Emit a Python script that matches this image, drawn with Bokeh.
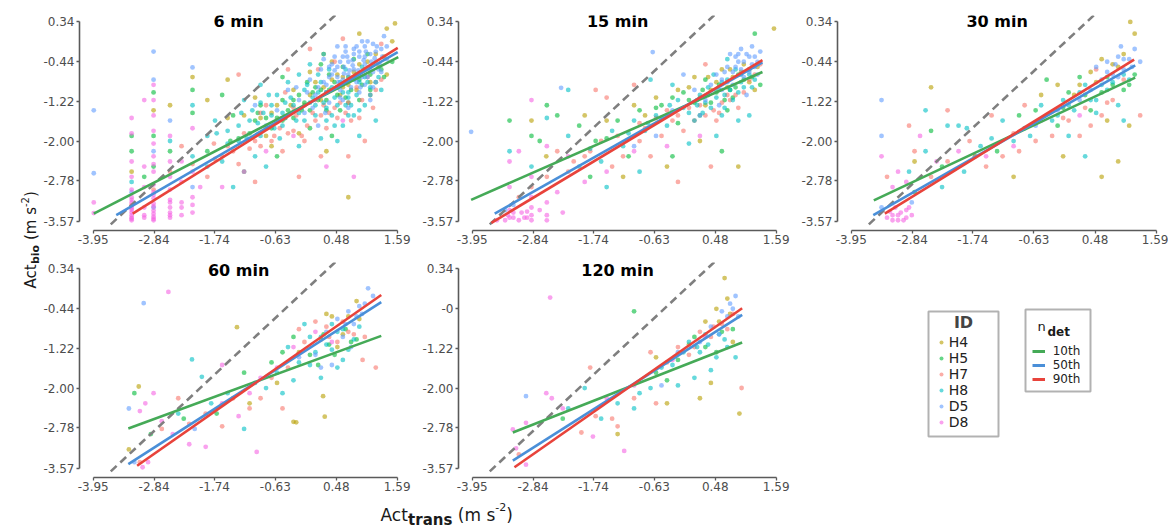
from bokeh.plotting import figure
from bokeh.layouts import row, column
from bokeh.models import (Range1d, FixedTicker, PrintfTickFormatter, Label,
                          BoxAnnotation, Legend, LegendItem)
from bokeh.embed import file_html
from bokeh.resources import INLINE

# ---------------- data ----------------
IDS = ["H4", "H5", "H7", "H8", "D5", "D8"]
QUANTILES = ["10th", "50th", "90th"]
PANELS = ["6 min", "15 min", "30 min", "60 min", "120 min"]
X_TICKS = [-3.95, -2.84, -1.74, -0.63, 0.48, 1.59]
Y_TICKS = [-3.57, -2.78, -2.00, -1.22, -0.44, 0.34]
ONE_TO_ONE = [-3.63, 0.6]

# 6 min
M6_H4 = [(-3.25,-2.6),(-2.85,-1.4),(-2.55,-1.3),(-2.14,-0.75),(-1.87,-1.2),(-1.5,-0.8),(-1.2,-1.5),(-0.9,-1.55),(-0.6,-1.3),(-0.3,-1.0),(0.0,-1.1),(0.2,-1.2),(0.4,-0.8),(0.6,-0.95),(0.8,-0.65),(1.0,-0.6),(1.2,-0.3),(1.4,-0.7),(1.55,0.3),(1.4,0.2),(0.9,0.1),(-0.2,-1.85),(0.3,-2.2),(0.7,-3.1),(-0.7,-2.1),(1.5,-0.05),
         (-0.45,-1.55),(0.0,-0.65),(0.3,-1.05),(0.5,-0.7),(0.7,-0.9),(0.9,-0.5),(1.1,-0.85),(0.25,-0.3),
         (-1.0,-1.15),(-0.35,-1.3),(0.1,-0.85),(0.55,-1.1),(1.25,-0.55),(0.4,-0.45),(-0.8,-1.9),
         (-1.5,-1.55),(-0.7,-1.45),(-0.1,-1.3),(0.25,-0.95),(0.6,-0.75),(0.85,-1.0),(1.05,-0.45),(1.35,-0.35)]
M6_H5 = [(-3.25,-1.9),(-3.25,-2.2),(-2.85,-1.05),(-2.85,-1.9),(-2.85,-2.5),(-2.14,-1.0),(-2.14,-1.45),(-2.55,-2.2),(-1.87,-2.2),(-3.02,-2.7),(-1.4,-1.5),(-1.1,-1.85),(-0.9,-1.3),(-0.7,-1.75),(-0.5,-1.2),(-0.3,-1.55),(-0.1,-1.25),(0.1,-0.95),(0.3,-1.4),(0.5,-1.1),(0.7,-0.75),(0.9,-1.2),(1.1,-0.7),(1.3,-0.6),(-0.5,-0.75),(0.0,-1.75),(0.4,-1.9),(-1.2,-2.6),(-0.6,-2.3),(0.2,-0.5),(0.8,-0.4),(1.5,-0.45),(-1.6,-1.1),
         (-0.8,-1.55),(-0.4,-1.4),(-0.05,-0.85),(0.15,-1.2),(0.35,-1.0),(0.55,-1.4),(0.75,-1.0),(0.95,-0.9),(1.05,-0.3),(-0.2,-1.1),(0.6,-0.55),
         (-1.0,-1.6),(-0.6,-1.55),(-0.3,-1.2),(0.0,-1.4),(0.2,-1.0),(0.45,-0.85),(0.65,-1.15),(0.85,-0.7),(1.2,-0.85),(-1.3,-1.95),
         (-0.95,-1.45),(-0.5,-1.6),(-0.15,-1.4),(0.05,-1.05),(0.3,-1.2),(0.5,-0.95),(0.7,-1.25),(0.9,-0.8),(1.1,-1.0),(1.35,-0.75),(-1.45,-2.0),(0.35,-0.7)]
M6_H7 = [(-3.25,-3.25),(-2.85,-2.95),(-2.55,-2.6),(-2.34,-2.1),(-2.14,-2.45),(-1.87,-2.7),(-1.73,-2.35),(-1.5,-2.1),(-1.3,-2.45),(-1.1,-2.15),(-0.9,-2.1),(-0.7,-2.0),(-0.5,-2.2),(-0.3,-1.8),(-0.1,-2.0),(0.1,-1.6),(0.3,-1.75),(0.5,-1.55),(0.7,-1.25),(0.9,-1.55),(1.1,-1.1),(1.3,-0.8),(-0.8,-1.3),(-0.4,-0.6),(0.0,-0.2),(-1.3,-0.7),(-0.2,-2.7),(0.2,-2.3),(0.7,-2.3),(1.0,-2.0),(-1.0,-2.8),(0.45,-0.45),(1.3,-0.1),(-0.6,-1.6),(0.6,0.0),
         (-0.65,-1.9),(-0.25,-1.5),(0.05,-1.45),(0.25,-1.3),(0.55,-1.25),(0.85,-0.95),(1.05,-0.75),(-0.45,-1.05),(0.15,-0.6),
         (-1.2,-1.85),(-0.8,-1.75),(-0.4,-1.85),(-0.05,-1.7),(0.35,-1.45),(0.75,-1.6),(1.15,-1.35),(-1.6,-2.3),(-1.75,-2.05),
         (-1.4,-2.2),(-1.0,-2.0),(-0.55,-1.75),(-0.15,-1.9),(0.2,-1.5),(0.45,-1.35),(0.65,-1.45),(0.95,-1.2),(1.2,-1.0),(-0.3,-1.35),(0.1,-1.2),(-0.9,-1.45)]
M6_H8 = [(-2.14,-1.3),(-2.14,-2.3),(-1.87,-1.9),(-1.87,-2.5),(-1.73,-1.6),(-2.55,-2.0),(-3.25,-2.8),(-1.5,-1.8),(-1.3,-2.0),(-1.1,-1.6),(-0.9,-1.9),(-0.7,-1.5),(-0.5,-1.7),(-0.3,-1.3),(-0.1,-1.0),(0.1,-1.3),(0.3,-1.05),(0.5,-1.3),(0.7,-1.05),(0.9,-0.85),(1.1,-0.95),(-0.6,-1.1),(-0.4,-0.85),(-0.2,-0.7),(0.0,-0.5),(0.2,-0.85),(0.4,-1.5),(0.6,-1.7),(0.8,-1.5),(1.0,-1.3),(-1.2,-1.2),(-1.0,-2.3),(-0.8,-2.5),(0.5,-2.0),(0.9,-1.9),(1.2,-1.6),(-1.6,-2.4),(-1.4,-2.9),(-0.2,-2.1),(0.25,-0.3),(-0.9,-0.9),(1.3,-1.0),(0.65,-0.6),
         (-0.7,-1.3),(-0.5,-1.45),(-0.35,-1.15),(-0.15,-1.35),(0.05,-1.15),(0.15,-0.7),(0.35,-0.6),(0.45,-1.15),(0.55,-0.85),(0.75,-1.3),(0.85,-1.1),(0.95,-0.55),(1.15,-0.5),(-0.95,-1.65),(-1.05,-1.4),(-0.25,-1.6),(0.3,-1.6),(0.7,-1.5),
         (-1.3,-1.7),(-1.15,-1.95),(-0.85,-1.45),(-0.55,-1.95),(-0.45,-1.25),(-0.1,-1.6),(0.1,-1.5),(0.25,-1.25),(0.4,-0.95),(0.6,-1.05),(0.65,-1.3),(1.0,-0.75),(1.1,-1.1),(0.2,-1.95),(-0.75,-1.1),
         (-0.9,-1.25),(-0.65,-1.75),(-0.45,-1.55),(-0.2,-1.45),(0.0,-1.25),(0.15,-1.05),(0.3,-1.35),(0.5,-0.95),(0.7,-1.15),(0.8,-0.8),(1.05,-0.85),(1.25,-0.75),(-0.05,-0.9),(0.45,-1.7),(0.9,-1.4),(-1.25,-1.45),(-1.5,-2.05),(-1.7,-1.85)]
M6_D5 = [(-3.94,-1.40),(-3.94,-2.63),(-2.85,-0.25),(-2.85,-0.8),(-2.85,-2.2),(-2.85,-3.3),(-3.25,-3.0),(-2.55,-1.6),(-2.14,-0.56),(-2.14,-2.9),(0.3,-0.9),(0.4,-0.7),(0.5,-0.55),(0.6,-0.8),(0.7,-0.45),(0.8,-0.6),(0.9,-0.35),(1.0,-0.5),(1.1,-0.3),(1.2,-0.45),(1.3,-0.2),(0.55,-1.0),(0.75,-0.95),(0.95,-0.75),(1.15,-0.65),(0.45,-0.35),(0.65,-0.25),(0.85,-0.15),(1.05,-0.05),(1.25,-0.6),(0.2,-0.6),(0.1,-1.1),(0.0,-0.8),(-0.2,-1.2),(-0.4,-1.0),(-0.1,-1.45),(0.35,-1.25),(0.6,-1.2),(0.9,-1.05),(1.2,-0.85),(1.4,-0.4),(1.35,0.05),(0.8,-0.3),(0.5,-0.15),(1.0,-0.9),(0.25,-0.4),(-0.6,-1.4),(-0.8,-1.7),(-1.0,-1.3),(0.7,-1.35),(1.1,-1.2),(0.15,-1.7),
         (0.45,-0.62),(0.62,-0.68),(0.78,-0.52),(0.88,-0.62),(0.98,-0.42),(1.08,-0.55),(1.18,-0.38),(1.28,-0.52),(0.72,-0.82),(0.52,-0.85),(0.35,-0.75),(1.02,-0.25),(1.22,-0.15),(0.92,-0.95),(0.68,-0.35),(0.15,-0.95),(-0.05,-1.05),(-0.25,-0.95),(0.05,-1.35),(0.28,-1.45),
         (0.55,-0.45),(0.72,-0.62),(0.82,-0.78),(0.9,-0.25),(1.12,-0.45),(1.32,-0.35),(1.0,-0.15),(0.4,-0.5),(0.3,-1.05),(0.62,-0.55),(1.15,-0.95),(0.78,-0.42),
         (0.5,-0.75),(0.6,-0.35),(0.7,-0.7),(0.8,-0.2),(0.9,-0.7),(1.0,-0.35),(1.1,-0.6),(1.2,-0.25),(1.3,-0.65),(1.4,-0.15),(0.35,-0.55),(0.25,-0.85),(0.55,-1.15),(0.85,-0.85),(1.05,-0.75),(0.95,-0.05),(1.15,-0.1),(0.65,-0.15)]
M6_D8 = [(-3.25,-3.55),(-3.25,-3.5),(-3.25,-3.45),(-3.25,-3.4),(-3.25,-3.35),(-3.25,-3.28),(-3.25,-3.2),(-3.25,-3.1),(-3.25,-2.95),(-3.25,-2.7),(-3.25,-2.4),(-3.25,-1.85),(-3.25,-1.55),
         (-2.85,-3.55),(-2.85,-3.48),(-2.85,-3.42),(-2.85,-3.36),(-2.85,-3.22),(-2.85,-3.12),(-2.85,-3.0),(-2.85,-2.85),(-2.85,-2.6),(-2.85,-2.3),(-2.85,-2.05),(-2.85,-1.8),(-2.85,-1.5),(-2.85,-1.2),(-2.85,-0.9),
         (-2.55,-3.5),(-2.55,-3.4),(-2.55,-3.3),(-2.55,-3.15),(-2.55,-2.95),(-2.55,-2.7),(-2.55,-2.4),(-2.55,-1.9),
         (-3.02,-3.5),(-3.02,-3.3),(-3.02,-2.9),(-3.02,-2.5),(-3.02,-1.2),(-2.34,-3.45),(-2.34,-3.2),(-2.34,-2.8),(-2.34,-2.4),
         (-2.14,-3.4),(-2.14,-3.1),(-2.14,-2.6),(-2.14,-1.75),(-3.94,-3.2),(-3.94,-3.41),
         (-1.6,-2.9),(-1.2,-2.6),(-0.8,-2.2),(0.3,-2.5),(-0.3,-1.9),(0.6,-1.6),(-2.0,-2.9),(0.8,-2.7),
         (-3.25,-3.52),(-3.25,-3.32),(-3.25,-3.15),(-2.85,-3.52),(-2.85,-3.28),(-2.85,-3.05),(-2.55,-3.45),(-2.55,-3.2),(-3.02,-3.45),(-2.34,-3.3),(-2.14,-3.25),(-2.85,-2.45)]

# 15 min
M15_H4 = [(-2.87,-1.6),(-2.6,-2.3),(-1.9,-1.5),(-1.5,-1.6),(-1.0,-1.3),(-0.6,-1.15),(-0.2,-1.0),(0.1,-0.75),(0.4,-1.0),(0.6,-0.6),(0.8,-0.75),(1.0,-0.5),(1.2,-1.0),(1.55,0.2),(0.9,-2.5),(-0.4,-2.5),(0.2,-2.0),(-1.2,-2.7),(0.3,-1.3),(0.7,-0.95),
          (0.2,-1.15),(0.5,-0.85),(0.95,-0.65),(1.1,-0.85),(-0.8,-1.5),(0.0,-0.95),(0.35,-0.75),(0.75,-0.6),(1.25,-0.55)]
M15_H5 = [(-3.27,-1.6),(-2.87,-1.9),(-2.59,-1.3),(-2.72,-2.0),(-2.4,-1.5),(-2.0,-1.7),(-1.7,-2.0),(-1.3,-1.6),(-1.1,-2.3),(-0.9,-1.4),(-0.5,-1.3),(-0.2,-1.65),(0.1,-1.25),(0.3,-0.8),(0.5,-1.05),(0.7,-1.4),(0.9,-0.7),(1.1,-0.6),(1.3,-0.9),(-0.3,-2.3),(0.6,-2.2),(1.2,0.1),(-1.8,-2.7),(0.2,-1.5),(0.8,-1.15),
          (0.4,-1.25),(0.65,-1.2),(0.85,-0.95),(1.0,-0.8),(-0.1,-1.05),(0.25,-1.0),(-0.6,-1.35),(-0.3,-1.15),(0.0,-1.2),(0.55,-0.9),(0.75,-1.0),(1.15,-0.75),(-1.5,-1.95)]
M15_H7 = [(-3.1,-3.1),(-2.87,-2.9),(-2.59,-2.7),(-2.2,-2.6),(-1.9,-2.3),(-1.6,-2.0),(-1.4,-2.5),(-1.2,-2.3),(-0.9,-2.0),(-0.7,-2.3),(-0.5,-1.9),(-0.3,-1.6),(-0.1,-1.8),(0.1,-1.6),(0.3,-1.5),(0.5,-1.6),(0.7,-1.1),(0.9,-1.35),(1.1,-0.8),(-1.7,-1.0),(-1.5,-1.15),(-0.2,-2.8),(0.4,-2.5),(-1.0,-0.9),(1.3,-0.5),(-2.4,-2.2),(0.3,-0.5),(0.6,-1.25),(-0.6,-1.55),
          (0.0,-1.35),(0.45,-1.4),(0.75,-1.2),(-0.4,-1.4),(-0.9,-1.65),(1.0,-1.05),(-1.3,-1.9),(-0.8,-1.75),(-0.2,-1.5),(0.2,-1.3),(0.55,-1.45),(0.85,-1.1),(1.2,-0.7),(-1.8,-2.2),(-2.1,-2.4)]
M15_H8 = [(-3.27,-2.2),(-2.87,-2.5),(-2.59,-1.55),(-2.2,-1.9),(-2.0,-2.5),(-1.8,-2.15),(-1.6,-2.4),(-1.4,-1.8),(-1.2,-2.1),(-1.0,-1.6),(-0.8,-1.8),(-0.6,-1.5),(-0.4,-1.7),(-0.2,-1.2),(0.0,-1.45),(0.2,-1.1),(0.4,-1.35),(0.6,-0.85),(0.8,-1.2),(1.0,-0.95),(1.2,-0.8),(0.5,-1.9),(0.0,-2.05),(-0.9,-2.6),(-1.5,-2.9),(0.9,-1.6),(-0.7,-0.8),(-2.2,-1.0),(0.7,-0.4),(1.1,-1.5),(-0.3,-0.9),(0.35,-0.95),(0.65,-1.1),(0.85,-0.6),(0.15,-1.3),
          (0.3,-1.25),(0.5,-1.15),(0.7,-0.8),(0.9,-1.05),(1.1,-0.7),(0.1,-1.6),(-0.5,-1.55),(0.6,-1.5),(0.95,-0.85),(0.45,-0.7),
          (-0.1,-1.35),(0.15,-1.2),(0.35,-1.1),(0.55,-1.0),(0.75,-1.0),(0.95,-0.7),(1.15,-0.95),(-0.35,-1.3),(-0.75,-1.65),(-1.1,-1.85),(0.25,-1.45),(0.65,-1.35)]
M15_D5 = [(-3.97,-1.82),(-3.35,-3.35),(-3.2,-3.25),(-2.33,-0.96),(-0.66,-0.26),(0.5,-0.7),(0.7,-0.55),(0.9,-0.45),(1.1,-0.35),(1.2,-0.55),(1.0,-0.75),(0.8,-0.9),(0.6,-1.0),(0.4,-0.9),(0.3,-1.2),(0.1,-1.0),(1.3,-0.25),(1.25,-0.7),(0.95,-0.2),(0.75,-0.3),(0.2,-1.5),(-0.3,-1.4),(-0.6,-1.9),(-1.0,-2.1),(0.55,-1.3),(1.05,-1.1),(-0.1,-0.7),(1.15,-0.15),(0.85,-0.35),
          (0.85,-0.55),(1.0,-0.45),(1.15,-0.5),(0.65,-0.65),(1.2,-0.35),(0.7,-0.85),(0.8,-0.65),(0.95,-0.6),(1.05,-0.3),(1.25,-0.45),(0.6,-0.8),(1.1,-0.65),(0.9,-0.3)]
M15_D8 = [(-3.35,-3.55),(-3.3,-3.45),(-3.27,-3.35),(-3.2,-3.5),(-3.1,-3.55),(-3.05,-3.4),(-2.95,-3.5),(-2.87,-3.45),(-2.87,-3.3),(-2.87,-3.1),(-2.87,-2.7),(-2.87,-1.2),(-3.27,-2.9),(-3.27,-2.4),(-2.59,-3.45),(-2.59,-3.2),(-2.59,-2.1),(-2.72,-3.35),(-2.4,-3.0),(-2.2,-2.3),(-1.9,-2.8),(-1.5,-2.6),(-1.0,-2.2),(-0.4,-2.1),(0.2,-1.9),(-3.5,-3.55),(-3.1,-2.2),(-2.3,-3.4),
          (-3.2,-3.4),(-3.0,-3.5),(-2.87,-3.55),(-3.27,-3.5),(-2.95,-3.38),(-2.59,-3.55)]

# 30 min
M30_H4 = [(-2.5,-0.95),(-2.8,-2.4),(-1.0,-2.7),(-0.5,-1.1),(-0.2,-0.9),(0.1,-1.1),(0.4,-0.65),(0.6,-0.4),(0.8,-0.5),(1.0,-0.3),(1.12,0.33),(1.2,0.1),(0.9,-2.4),(1.1,-1.7),(0.6,-2.7),(-0.1,-2.3),(0.7,-1.6),
          (0.2,-0.9),(0.5,-0.85),(0.9,-0.55)]
M30_H5 = [(-2.5,-1.8),(-2.3,-2.5),(-1.7,-2.3),(-1.3,-2.2),(-0.9,-1.5),(-0.6,-1.4),(-0.2,-1.7),(0.0,-1.05),(0.2,-0.75),(0.4,-1.4),(0.6,-1.05),(0.8,-0.9),(1.0,-1.0),(-0.4,-0.8),(-2.8,-3.0),(1.2,-0.7),
          (-0.1,-1.35),(0.3,-1.1),(0.7,-0.75),(1.1,-0.9)]
M30_H7 = [(-3.3,-2.7),(-2.8,-2.2),(-2.5,-2.7),(-2.2,-2.4),(-1.8,-2.0),(-1.5,-2.5),(-1.2,-2.3),(-0.9,-2.2),(-0.6,-2.0),(-0.3,-1.9),(0.0,-1.6),(0.2,-1.9),(0.4,-1.7),(0.6,-1.5),(0.8,-1.2),(1.0,-0.8),(1.3,-1.5),(-1.4,-1.5),(-0.8,-1.3),(0.5,-0.6),(-2.9,-1.7),(-2.2,-1.4),
          (-0.1,-1.55),(0.3,-1.35),(0.7,-1.25),(-1.0,-1.85),(-1.7,-2.3)]
M30_H8 = [(-2.9,-2.6),(-2.6,-2.2),(-2.2,-1.7),(-2.0,-1.7),(-1.85,-1.75),(-1.6,-2.1),(-1.9,-2.6),(-1.4,-1.95),(-1.2,-1.6),(-1.0,-2.0),(-0.7,-1.9),(-0.5,-1.3),(-0.3,-1.6),(-0.1,-1.2),(0.1,-1.4),(0.3,-0.9),(0.5,-1.2),(0.7,-1.0),(0.9,-1.3),(1.1,-0.8),(0.3,-2.3),(-2.3,-2.9),(-2.6,-1.4),(0.0,-1.9),(1.0,-1.6),
          (0.0,-1.3),(0.2,-1.05),(0.4,-1.2),(0.6,-0.9),(0.8,-0.85),(1.0,-0.7),(0.5,-1.45),(-0.2,-1.5),(-0.8,-1.75)]
M30_D5 = [(-3.4,-1.2),(-3.4,-1.9),(-2.85,-3.2),(-3.4,-3.3),(0.5,-0.55),(0.7,-0.45),(0.9,-0.35),(1.1,-0.4),(0.8,-0.7),(1.0,-0.6),(0.6,-0.8),(1.2,-0.2),(0.4,-1.0),(0.2,-1.2),(-0.2,-1.4),(-0.6,-1.7),(1.3,-0.45),(0.95,-0.15),
          (0.7,-0.65),(0.85,-0.5),(1.0,-0.4),(1.15,-0.55),(0.9,-0.75)]
M30_D8 = [(-3.3,-3.5),(-3.2,-3.45),(-3.1,-3.55),(-3.05,-3.4),(-2.95,-3.5),(-2.9,-3.3),(-3.15,-3.3),(-3.0,-3.55),(-3.25,-3.38),(-2.85,-3.45),(-3.4,-2.3),(-3.1,-2.6),(-2.95,-2.8),(-3.2,-2.9),(-2.7,-1.9),(-2.4,-2.4),(-2.0,-2.2),(-1.5,-2.3),(-1.0,-2.1),(-0.5,-1.6),(0.2,-1.5),
          (-3.1,-3.45),(-3.2,-3.55),(-2.95,-3.35)]

# 60 min
M60_H4 = [(-3.12,-1.97),(-3.3,-3.2),(-1.33,-0.81),(-0.30,-2.66),(-0.25,-2.67),(0.24,-2.16),(0.27,-2.56),(-0.6,-1.9),(-0.2,-1.3),(0.2,-1.05),(0.5,-1.2),(0.7,-0.6),(0.9,-0.65),(0.3,-0.55),(-1.1,-2.3),(0.85,-0.3),
          (0.6,-0.95),(0.4,-0.6)]
M60_H5 = [(-3.2,-2.1),(-2.9,-2.9),(-2.3,-2.6),(-1.7,-2.5),(-1.2,-1.7),(-0.7,-1.5),(-0.3,-1.0),(0.0,-1.35),(0.25,-0.95),(0.45,-1.35),(0.65,-0.85),(0.85,-1.05),(-0.5,-1.3),(0.15,-1.55),
          (0.35,-1.15),(0.75,-1.1)]
M60_H7 = [(-3.1,-3.45),(-2.7,-2.8),(-2.4,-2.2),(-2.2,-2.7),(-1.9,-2.5),(-1.6,-2.75),(-1.4,-2.2),(-1.1,-2.4),(-0.9,-2.2),(-0.7,-1.8),(-0.4,-1.6),(-0.1,-1.1),(0.1,-0.7),(0.35,-1.0),(0.6,-0.7),(0.8,-0.95),(1.0,-1.0),(-0.2,-0.85),(0.96,-1.45),(-0.5,-2.4),(1.2,-1.6),
          (0.3,-0.8),(0.7,-0.9),(0.5,-1.1)]
M60_H8 = [(-2.15,-1.44),(-1.97,-1.78),(-2.4,-2.5),(-1.8,-2.3),(-1.5,-2.1),(-1.0,-1.9),(-0.8,-2.0),(-0.6,-1.7),(-0.4,-1.2),(-0.2,-1.5),(0.0,-1.0),(0.1,-1.3),(0.3,-1.15),(0.5,-0.9),(0.7,-1.25),(0.2,-1.8),(0.5,-1.6),(-0.5,-2.1),(-1.2,-2.8),(0.9,-0.8),(-0.1,-0.75),(0.4,-0.75),(-0.3,-1.85),(0.6,-1.45),
          (0.2,-1.0),(0.4,-1.25),(0.6,-0.85),(0.8,-1.05),(0.0,-1.55)]
M60_D5 = [(-3.03,-0.34),(-3.3,-2.4),(-3.2,-3.45),(-2.1,-2.8),(0.5,-0.65),(0.7,-0.5),(0.9,-0.4),(1.06,-0.05),(0.8,-0.75),(0.3,-0.9),(0.1,-1.35),(0.6,-1.0),(0.4,-1.55),(0.2,-1.6),(-0.2,-1.4),(0.75,-1.2),(0.95,-0.55),(1.15,-0.2),
          (0.65,-0.75),(0.85,-0.6),(1.0,-0.35)]
M60_D8 = [(-2.58,-0.12),(-3.1,-2.45),(-3.0,-2.3),(-2.85,-2.1),(-3.05,-3.55),(-2.95,-3.45),(-2.7,-2.65),(-2.5,-2.9),(-2.2,-3.1),(-1.9,-3.15),(-1.6,-2.3),(-1.3,-2.55),(-0.97,-3.25),(-0.9,-1.8),(-0.6,-1.6),(-0.3,-1.2),(0.1,-0.9),(0.4,-1.1),(-1.6,-1.55),(-1.1,-2.1)]

# 120 min
M120_H4 = [(-1.3,-2.9),(-0.4,-2.3),(0.2,-2.2),(0.4,-1.9),(0.92,-2.5),(0.5,-0.45),(0.7,-0.25),(0.65,0.15),(0.0,-1.15),(-0.6,-1.4),(0.3,-0.7),(0.8,-1.1),
           (0.55,-0.7),(0.75,-0.55)]
M120_H5 = [(-1.0,-0.5),(-2.3,-2.6),(-0.6,-1.7),(-0.2,-1.45),(0.1,-1.0),(0.3,-1.2),(0.6,-0.9),(0.8,-0.85),(0.5,-1.3),(-0.4,-1.85)]
M120_H7 = [(-3.1,-3.3),(-1.96,-2.87),(-1.7,-2.55),(-1.4,-2.6),(-1.3,-2.75),(-1.8,-1.6),(-1.0,-2.2),(-0.6,-2.3),(-0.4,-1.5),(-0.2,-1.2),(0.0,-1.35),(0.2,-0.9),(0.4,-1.0),(0.6,-0.75),(0.8,-0.55),(0.96,-2.0),(-0.7,-1.3),
           (0.45,-0.8),(0.7,-0.85),(0.1,-1.2)]
M120_H8 = [(-2.2,-2.4),(-1.9,-2.0),(-1.3,-2.3),(-1.0,-2.4),(-0.9,-2.1),(-0.7,-2.0),(-0.5,-1.6),(-0.3,-1.55),(-0.1,-1.3),(0.0,-1.1),(0.2,-1.3),(0.35,-1.15),(0.5,-1.4),(0.7,-1.2),(0.85,-1.4),(-0.2,-1.95),(0.1,-1.8),(0.4,-1.65),(-1.6,-2.6),
           (0.3,-0.95),(0.55,-0.95),(0.65,-1.05),(0.15,-1.2)]
M120_D5 = [(-2.97,-2.16),(0.6,-0.5),(0.75,-0.35),(0.85,-0.2),(0.4,-0.8),(0.2,-1.1),(-0.2,-1.3),(-0.5,-1.95),(0.55,-0.95),(0.9,-0.6),
           (0.7,-0.6),(0.8,-0.45)]
M120_D8 = [(-2.53,-0.23),(-3.21,-2.81),(-2.97,-2.68),(-3.15,-3.18),(-2.97,-3.5),(-2.6,-2.1),(-2.5,-2.2),(-2.3,-2.4),(-1.75,-2.95),(-1.18,-3.23),(-1.5,-2.2),(-1.0,-1.95),(-0.3,-1.45),(0.3,-1.0)]

# quantile regression lines: [(x start, y start), (x end, y end)]
REG_6 = {"10th": [(-3.94,-3.42),(1.61,-0.36)], "50th": [(-3.53,-3.45),(1.60,-0.26)], "90th": [(-3.23,-3.42),(1.60,-0.18)]}
REG_15 = {"10th": [(-3.97,-3.15),(1.34,-0.65)], "50th": [(-3.54,-3.42),(1.34,-0.46)], "90th": [(-3.60,-3.60),(1.34,-0.42)]}
REG_30 = {"10th": [(-3.54,-3.16),(1.21,-0.76)], "50th": [(-3.55,-3.45),(1.21,-0.52)], "90th": [(-3.34,-3.42),(1.19,-0.41)]}
REG_60 = {"10th": [(-3.31,-2.79),(1.30,-0.98)], "50th": [(-3.31,-3.49),(1.30,-0.32)], "90th": [(-3.15,-3.52),(1.30,-0.18)]}
REG_120 = {"10th": [(-3.21,-2.87),(0.97,-1.11)], "50th": [(-3.21,-3.42),(0.97,-0.57)], "90th": [(-3.18,-3.55),(0.97,-0.44)]}

POINTS = {
    "6 min": dict(zip(IDS, [M6_H4, M6_H5, M6_H7, M6_H8, M6_D5, M6_D8])),
    "15 min": dict(zip(IDS, [M15_H4, M15_H5, M15_H7, M15_H8, M15_D5, M15_D8])),
    "30 min": dict(zip(IDS, [M30_H4, M30_H5, M30_H7, M30_H8, M30_D5, M30_D8])),
    "60 min": dict(zip(IDS, [M60_H4, M60_H5, M60_H7, M60_H8, M60_D5, M60_D8])),
    "120 min": dict(zip(IDS, [M120_H4, M120_H5, M120_H7, M120_H8, M120_D5, M120_D8])),
}
REGS = {"6 min": REG_6, "15 min": REG_15, "30 min": REG_30, "60 min": REG_60, "120 min": REG_120}

# ---------------- styles ----------------
ID_COLORS = {"H4": "#B79F00", "H5": "#00BA38", "H7": "#F8766D",
             "H8": "#00BFC4", "D5": "#619CFF", "D8": "#F564E3"}
Q_COLORS = {"10th": "#45AA57", "50th": "#4A8FD8", "90th": "#E8433B"}
FONT = "DejaVu Sans"
AXIS_COL = "#5a5a5a"
FRAME_H = 215


def style_axes(p):
    for ax, ticks, so in ((p.xaxis, X_TICKS, 1), (p.yaxis, Y_TICKS, 2)):
        ax.ticker = FixedTicker(ticks=ticks, minor_ticks=[])
        ax.formatter = PrintfTickFormatter(format="%.2f")
        ax.bounds = (ticks[0], ticks[-1])
        ax.axis_line_color = AXIS_COL
        ax.axis_line_width = 1.6
        ax.major_tick_line_color = AXIS_COL
        ax.major_tick_line_width = 1.3
        ax.major_tick_out = 3
        ax.major_tick_in = 0
        ax.minor_tick_line_color = None
        ax.major_label_text_font = FONT
        ax.major_label_text_font_size = "12px"
        ax.major_label_text_color = "#4d4d4d"
        ax.major_label_standoff = so


def make_panel(name, width, bl, br, bt, bb, title_y):
    p = figure(width=width, height=bt + FRAME_H + bb,
               x_range=Range1d(-4.2, 1.76), y_range=Range1d(-3.75, 0.455),
               output_backend="svg", toolbar_location=None, title=None,
               min_border_left=bl, min_border_right=br,
               min_border_top=bt, min_border_bottom=bb)
    p.outline_line_color = None
    p.xgrid.visible = False
    p.ygrid.visible = False
    p.background_fill_color = "white"
    p.border_fill_color = "white"
    style_axes(p)
    pts = POINTS[name]
    for id_ in IDS:
        xs = [a for a, b in pts[id_]]
        ys = [b for a, b in pts[id_]]
        p.scatter(xs, ys, size=4.8, fill_color=ID_COLORS[id_],
                  line_color=None, fill_alpha=0.6)
    p.line(ONE_TO_ONE, ONE_TO_ONE, line_color="#7f7f7f", line_width=2.6,
           line_dash="8 5")
    reg = REGS[name]
    for q in QUANTILES:
        (x0, y0), (x1, y1) = reg[q]
        p.line([x0, x1], [y0, y1], line_color=Q_COLORS[q], line_width=2.6)
    p.add_layout(Label(x=-1.3, y=title_y, text=name, text_font=FONT,
                       text_font_style="bold", text_font_size="16px",
                       text_align="center", text_baseline="middle",
                       text_color="black"))
    return p


def blank(width, height, bt=0, bb=0):
    p = figure(width=width, height=height, x_range=Range1d(0, width),
               y_range=Range1d(0, height - bt - bb), output_backend="svg",
               toolbar_location=None, title=None, x_axis_type=None,
               y_axis_type=None, min_border=0, min_border_top=bt,
               min_border_bottom=bb)
    p.outline_line_color = None
    p.xgrid.visible = False
    p.ygrid.visible = False
    return p


def txt(p, x, y, s, size, bold=False, angle=0.0, color="#1a1a1a"):
    p.add_layout(Label(x=x, y=y, text=s, text_font=FONT,
                       text_font_size=f"{size}px",
                       text_font_style="bold" if bold else "normal",
                       text_align="left", text_baseline="alphabetic",
                       angle=angle, text_color=color))


# ---------------- panels ----------------
p1 = make_panel("6 min", 379, 38, 13, 15, 18, 0.34)
p2 = make_panel("15 min", 379, 38, 13, 15, 18, 0.34)
p3 = make_panel("30 min", 370, 39, 3, 15, 18, 0.34)
p4 = make_panel("60 min", 379, 38, 13, 14, 18, 0.29)
p5 = make_panel("120 min", 379, 38, 13, 14, 18, 0.29)
p5.yaxis.major_label_overrides = {-0.44: "-0"}

# ---------------- legend panel ----------------
lg = blank(370, 247, bt=14, bb=18)
lg.add_layout(BoxAnnotation(left=130, right=200, bottom=41, top=166,
                            fill_alpha=0, line_color="black", line_width=2))
lg.add_layout(BoxAnnotation(left=227, right=292, bottom=86, top=168,
                            fill_alpha=0, line_color="black", line_width=2))
lg.add_layout(Label(x=165, y=155, text="ID", text_font=FONT,
                    text_font_style="bold", text_font_size="16px",
                    text_align="center", text_baseline="middle"))
txt(lg, 239, 151, "n", 13)
txt(lg, 249, 145.5, "det", 12, bold=True)

id_items = []
for id_ in IDS:
    src = POINTS["6 min"][id_]
    r = lg.scatter([a for a, b in src], [b for a, b in src], size=5,
                   fill_color=ID_COLORS[id_], line_color=None,
                   fill_alpha=0.6, visible=False)
    id_items.append(LegendItem(label=id_, renderers=[r]))
q_items = []
for q in QUANTILES:
    (x0, y0), (x1, y1) = REG_6[q]
    r = lg.line([x0, x1], [y0, y1], line_color=Q_COLORS[q], line_width=3,
                visible=False)
    q_items.append(LegendItem(label=q, renderers=[r]))

leg_id = Legend(items=id_items, location=(137.7, 47), padding=0, margin=0,
                spacing=0, glyph_width=10, glyph_height=10, label_height=10,
                label_standoff=3, label_text_font=FONT,
                label_text_font_size="14px", label_text_color="#222222",
                border_line_color=None, background_fill_alpha=0)
leg_q = Legend(items=q_items, location=(233.7, 90.7), padding=0, margin=0,
               spacing=0, glyph_width=13, glyph_height=10, label_height=10,
               label_standoff=8, label_text_font=FONT,
               label_text_font_size="12px", label_text_color="#222222",
               border_line_color=None, background_fill_alpha=0)
lg.add_layout(leg_id)
lg.add_layout(leg_q)

# ---------------- axis titles ----------------
ylab = blank(40, 495)
A = 1.5707963267948966
txt(ylab, 30, 207, "Act", 15, angle=A)
txt(ylab, 34.5, 231.4, "bio", 11, bold=True, angle=A)
txt(ylab, 30, 255.4, "(m s", 15, angle=A)
txt(ylab, 24, 288.4, "-2", 10, angle=A)
txt(ylab, 30, 298.4, ")", 15, angle=A)

xlab = blank(1168, 33)
txt(xlab, 380, 14, "Act", 17)
txt(xlab, 407.6, 9, "trans", 15, bold=True)
txt(xlab, 457.3, 14, "(m s", 17)
txt(xlab, 494.8, 22, "-2", 11)
txt(xlab, 505.8, 14, ")", 17)

layout = column(
    row(ylab, column(row(p1, p2, p3), row(p4, p5, lg))),
    xlab,
)

with open("out.html", "w") as f:
    f.write(file_html(layout, INLINE))
